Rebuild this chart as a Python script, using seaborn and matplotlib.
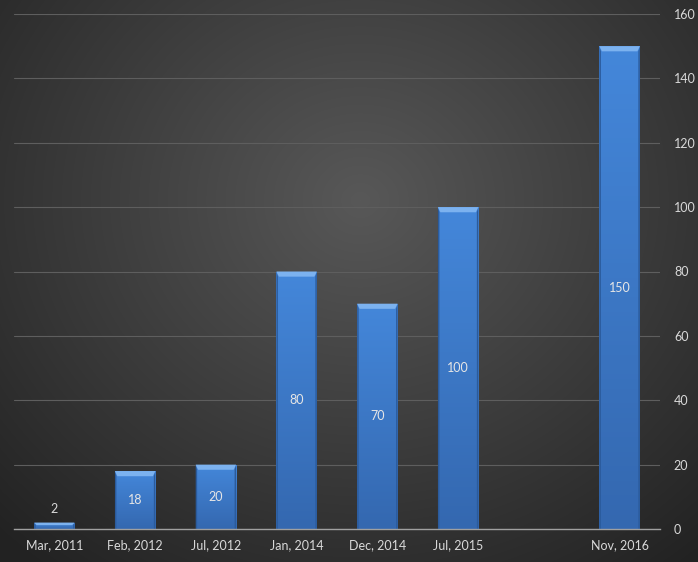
import numpy as np
import pandas as pd
import matplotlib
matplotlib.use("Agg")
import matplotlib.pyplot as plt
from matplotlib.patches import Polygon
import seaborn as sns

categories = ["Mar, 2011", "Feb, 2012", "Jul, 2012", "Jan, 2014", "Dec, 2014", "Jul, 2015", " ", "Nov, 2016"]
values = [2, 18, 20, 80, 70, 100, np.nan, 150]
yticks = [0, 20, 40, 60, 80, 100, 120, 140, 160]

df = pd.DataFrame({"cat": categories, "val": values})

sns.set_theme(style="dark")
plt.rcParams["font.family"] = ["Lato", "DejaVu Sans"]

fig = plt.figure(figsize=(6.98, 5.62), dpi=100)

# radial gradient background
bg = fig.add_axes([0, 0, 1, 1], zorder=-10)
yy, xx = np.mgrid[0:562, 0:698]
r = np.sqrt(((xx - 360) / 520.0) ** 2 + ((yy - 200) / 470.0) ** 2)
r = np.clip(r, 0, 1)
c0 = np.array([0x58, 0x58, 0x58]) / 255.0
c1 = np.array([0x22, 0x22, 0x22]) / 255.0
img = c0[None, None, :] * (1 - r[..., None]) + c1[None, None, :] * r[..., None]
bg.imshow(img, aspect="auto", extent=[0, 1, 0, 1], origin="upper")
bg.axis("off")

ax = fig.add_axes([14 / 698, 33 / 562, (660 - 14) / 698, (529 - 14) / 562])
ax.set_facecolor("none")

sns.barplot(data=df, x="cat", y="val", color="#3b78c6", width=0.5, ax=ax,
            saturation=1, edgecolor="none", zorder=3)

ax.set_ylim(0, 160)
ax.set_xlim(-0.5, len(categories) - 0.5)
ax.set_yticks(yticks)
ax.yaxis.tick_right()
ax.tick_params(axis="y", length=0, pad=10, labelsize=9, labelcolor="#d9d9d9")
ax.tick_params(axis="x", length=0, pad=7, labelsize=9, labelcolor="#d9d9d9")
ax.set_xlabel("")
ax.set_ylabel("")
ax.grid(axis="y", color="#5e5e5e", linewidth=0.8, zorder=0)
ax.grid(axis="x", visible=False)
for s in ["top", "left", "right"]:
    ax.spines[s].set_visible(False)
ax.spines["bottom"].set_color("#a0a0a0")
ax.spines["bottom"].set_linewidth(1.0)
ax.spines["bottom"].set_zorder(5)

# bevel / gradient effects derived from bar patches
grad = np.linspace(0, 1, 100)[:, None]
top_c = np.array([0x44, 0x87, 0xda]) / 255.0
bot_c = np.array([0x34, 0x68, 0xb0]) / 255.0
gimg = top_c[None, None, :] * (1 - grad[..., None]) + bot_c[None, None, :] * grad[..., None]
gimg = np.repeat(gimg, 2, axis=1)

for p in list(ax.patches):
    h = p.get_height()
    if not np.isfinite(h) or h <= 0:
        continue
    x = p.get_x()
    w = p.get_width()
    im = ax.imshow(gimg, extent=[x, x + w, 0, h], aspect="auto", zorder=3.1,
                   origin="upper")
    im.set_clip_path(p)
    dx = w * 0.06
    dy = min(1.6, h * 0.4)
    # top bevel
    ax.add_patch(Polygon([[x, h], [x + w, h], [x + w - dx, h - dy], [x + dx, h - dy]],
                         closed=True, facecolor="#7cb2ef", edgecolor="none", zorder=3.3))
    # side edges
    ax.add_patch(Polygon([[x, 0], [x, h], [x + dx * 0.6, h - dy], [x + dx * 0.6, 0]],
                         closed=True, facecolor="#2b5b9c", edgecolor="none", zorder=3.2))
    ax.add_patch(Polygon([[x + w, 0], [x + w, h], [x + w - dx * 0.6, h - dy], [x + w - dx * 0.6, 0]],
                         closed=True, facecolor="#2b5b9c", edgecolor="none", zorder=3.2))
    # value label
    if h < 8:
        ax.text(x + w / 2, h + 2.5, f"{h:g}", ha="center", va="bottom",
                fontsize=9, color="#d9d9d9", zorder=6)
    else:
        ax.text(x + w / 2, h / 2, f"{h:g}", ha="center", va="center",
                fontsize=9, color="#e6e6e6", zorder=6)

ax.set_axisbelow(True)
fig.savefig("out.png", dpi=100)
